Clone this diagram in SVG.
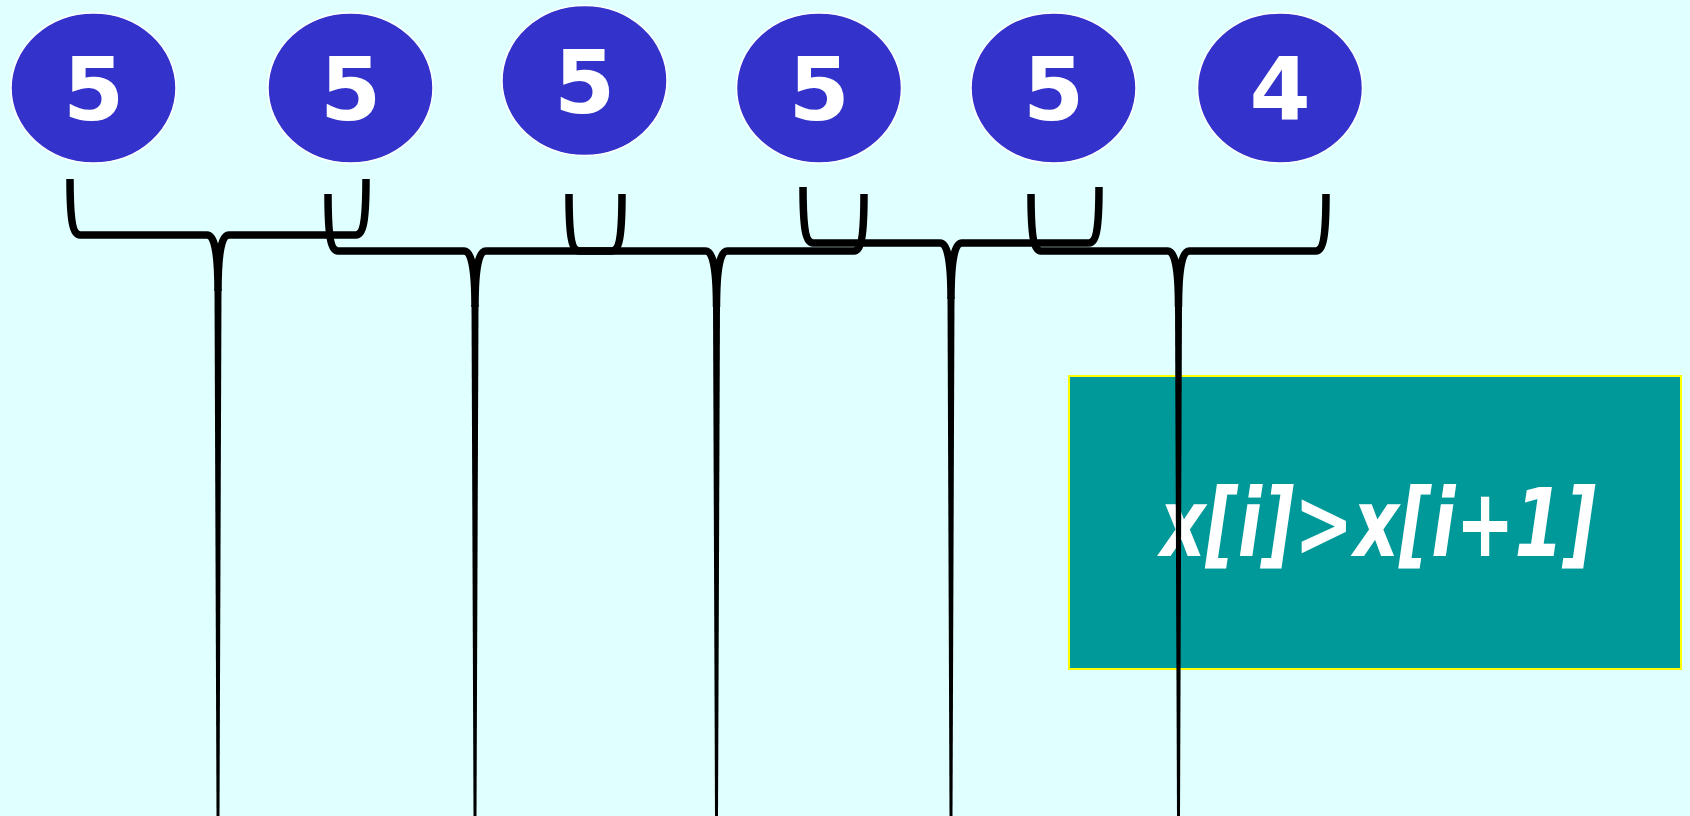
<svg xmlns="http://www.w3.org/2000/svg" width="1690" height="816" viewBox="0 0 1690 816">
<style>
.bg{fill:#E0FFFF}
.node ellipse{fill:#3333CC;stroke:#FFFFFF;stroke-width:1.5}
.node text{fill:#FFFFFF;font-family:"DejaVu Sans",sans-serif;font-weight:bold;font-size:88px;text-anchor:middle}
.box rect{fill:#009999;stroke:#FFFF00;stroke-width:2}
.box text{fill:#FFFFFF;font-family:"DejaVu Sans",sans-serif;font-weight:bold;font-style:oblique;font-size:95px;text-anchor:middle}
.brace{fill:none;stroke:#000000;stroke-width:7.5;stroke-linecap:butt;stroke-linejoin:round}
.tail{fill:#000000}
</style>
<rect class="bg" x="0" y="0" width="1690" height="816"/>
<g id="n1" class="node"><ellipse cx="93.5" cy="88" rx="82.5" ry="75"/><text x="93.5" y="120">5</text></g>
<g id="n2" class="node"><ellipse cx="350.5" cy="88" rx="82.5" ry="75"/><text x="350.5" y="120">5</text></g>
<g id="n3" class="node"><ellipse cx="584.5" cy="80.5" rx="82.5" ry="75"/><text x="584.5" y="112.5">5</text></g>
<g id="n4" class="node"><ellipse cx="819" cy="88" rx="82.5" ry="75"/><text x="819" y="120">5</text></g>
<g id="n5" class="node"><ellipse cx="1053.5" cy="88" rx="82.5" ry="75"/><text x="1053.5" y="120">5</text></g>
<g id="n6" class="node"><ellipse cx="1280" cy="88" rx="82.5" ry="75"/><text x="1280" y="120">4</text></g>
<g id="cond" class="box"><rect x="1069" y="376" width="612" height="293"/><text x="1378" y="556" textLength="436" lengthAdjust="spacingAndGlyphs">x[i]&gt;x[i+1]</text></g>
<g id="connectors">
<g id="b1"><path class="brace" d="M70,179 C70,222 73,235 80,235 L207,235 C214,235 218,250 218,291 M366,179 C366,222 363,235 356,235 L229,235 C222,235 218,250 218,291"/><polygon class="tail" points="214.5,289 221.5,289 219.5,816 216.5,816"/></g>
<g id="b2"><path class="brace" d="M328,194 C328,237 331,251 338,251 L464,251 C471,251 475,266 475,307 M622,194 C622,237 619,251 612,251 L486,251 C479,251 475,266 475,307"/><polygon class="tail" points="471.5,305 478.5,305 476.5,816 473.5,816"/></g>
<g id="b3"><path class="brace" d="M569,194 C569,237 572,251 579,251 L705.5,251 C712.5,251 716.5,266 716.5,307 M864,194 C864,237 861,251 854,251 L727.5,251 C720.5,251 716.5,266 716.5,307"/><polygon class="tail" points="713,305 720,305 718,816 715,816"/></g>
<g id="b4"><path class="brace" d="M803,187 C803,230 806,243 813,243 L940,243 C947,243 951,258 951,299 M1099,187 C1099,230 1096,243 1089,243 L962,243 C955,243 951,258 951,299"/><polygon class="tail" points="947.5,297 954.5,297 952.5,816 949.5,816"/></g>
<g id="b5"><path class="brace" d="M1031,194 C1031,237 1034,251 1041,251 L1167.5,251 C1174.5,251 1178.5,266 1178.5,307 M1326,194 C1326,237 1323,251 1316,251 L1189.5,251 C1182.5,251 1178.5,266 1178.5,307"/><polygon class="tail" points="1175,305 1182,305 1180,816 1177,816"/></g>
</g>
</svg>
